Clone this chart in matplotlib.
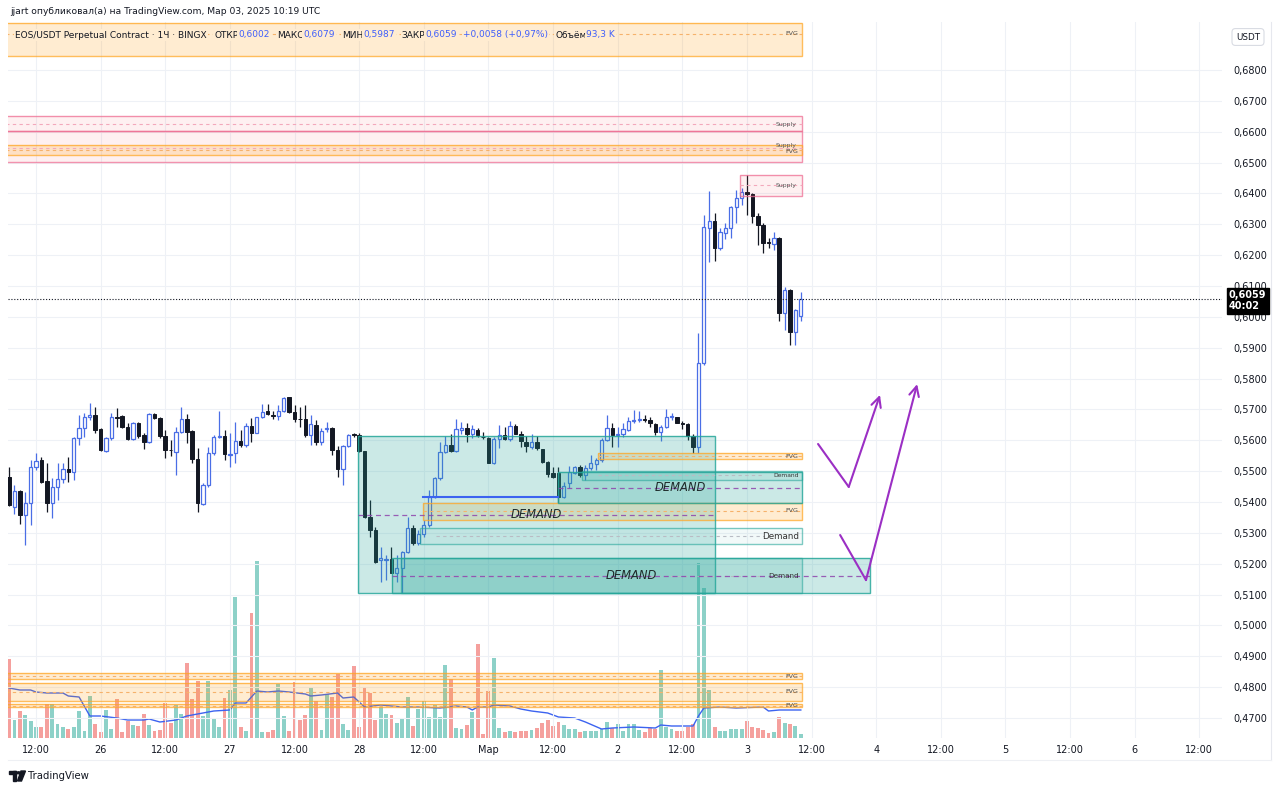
import numpy as np
import matplotlib
matplotlib.use("Agg")
import matplotlib.pyplot as plt
from matplotlib.patches import Rectangle, Circle, Polygon

plt.rcParams['font.family'] = ['DejaVu Sans']

# ---------------- data ----------------
FIRST_HOUR = 7  # first candle: 25 Feb 07:00 (hours counted from 25 Feb 00:00)

opens = [0.5480,0.5385,0.5436,0.5357,0.5396,0.5512,0.5536,0.5469,0.5396,0.5450,
 0.5476,0.5508,0.5497,0.5606,0.5639,0.5674,0.5682,0.5636,0.5566,0.5606,
 0.5677,0.5679,0.5644,0.5603,0.5655,0.5617,0.5596,0.5685,0.5671,0.5614,
 0.5569,0.5563,0.5628,0.5668,0.5631,0.5538,0.5394,0.5455,0.5558,0.5610,
 0.5614,0.5553,0.5558,0.5599,0.5585,0.5646,0.5625,0.5674,0.5696,0.5683,
 0.5679,0.5696,0.5739,0.5693,0.5670,0.5670,0.5617,0.5650,0.5596,0.5637,
 0.5639,0.5569,0.5506,0.5582,0.5619,0.5617,0.5566,0.5350,0.5309,0.5212,
 0.5212,0.5214,0.5171,0.5185,0.5239,0.5315,0.5266,0.5296,0.5325,0.5417,
 0.5477,0.5563,0.5585,0.5566,0.5633,0.5639,0.5620,0.5633,0.5612,0.5606,
 0.5525,0.5603,0.5617,0.5603,0.5646,0.5622,0.5595,0.5579,0.5595,0.5571,
 0.5531,0.5493,0.5495,0.5417,0.5460,0.5495,0.5514,0.5487,0.5509,0.5523,
 0.5536,0.5601,0.5639,0.5617,0.5622,0.5633,0.5664,0.5666,0.5668,0.5666,
 0.5653,0.5628,0.5644,0.5674,0.5674,0.5657,0.5653,0.5614,0.5579,0.5849,
 0.6287,0.6312,0.6222,0.6273,0.6287,0.6355,0.6384,0.6406,0.6398,0.6327,
 0.6298,0.6244,0.6236,0.6254,0.6011,0.6087,0.5952,0.6002]

highs = [0.5512,0.5455,0.5440,0.5434,0.5536,0.5560,0.5547,0.5525,0.5477,0.5527,
 0.5525,0.5547,0.5612,0.5682,0.5687,0.5722,0.5709,0.5639,0.5612,0.5687,
 0.5704,0.5682,0.5655,0.5660,0.5660,0.5623,0.5690,0.5690,0.5677,0.5633,
 0.5601,0.5644,0.5709,0.5685,0.5633,0.5574,0.5461,0.5579,0.5617,0.5696,
 0.5633,0.5623,0.5660,0.5633,0.5657,0.5671,0.5677,0.5718,0.5718,0.5694,
 0.5715,0.5739,0.5741,0.5714,0.5707,0.5714,0.5682,0.5666,0.5639,0.5660,
 0.5642,0.5582,0.5585,0.5620,0.5625,0.5623,0.5566,0.5406,0.5320,0.5255,
 0.5228,0.5255,0.5228,0.5242,0.5350,0.5325,0.5309,0.5342,0.5439,0.5482,
 0.5595,0.5614,0.5622,0.5668,0.5660,0.5655,0.5649,0.5639,0.5628,0.5612,
 0.5612,0.5649,0.5642,0.5664,0.5652,0.5631,0.5614,0.5620,0.5614,0.5571,
 0.5533,0.5514,0.5514,0.5466,0.5517,0.5517,0.5520,0.5520,0.5552,0.5541,
 0.5606,0.5682,0.5655,0.5644,0.5655,0.5676,0.5698,0.5696,0.5682,0.5674,
 0.5657,0.5649,0.5700,0.5687,0.5676,0.5664,0.5655,0.5622,0.5947,0.6330,
 0.6409,0.6335,0.6287,0.6305,0.6359,0.6411,0.6417,0.6460,0.6400,0.6338,
 0.6303,0.6254,0.6276,0.6258,0.6096,0.6089,0.6027,0.6079]

lows = [0.5387,0.5361,0.5329,0.5261,0.5325,0.5504,0.5461,0.5369,0.5347,0.5407,
 0.5461,0.5466,0.5471,0.5585,0.5612,0.5666,0.5623,0.5566,0.5563,0.5601,
 0.5644,0.5639,0.5601,0.5601,0.5606,0.5571,0.5590,0.5668,0.5606,0.5542,
 0.5549,0.5488,0.5623,0.5590,0.5525,0.5369,0.5390,0.5450,0.5552,0.5606,
 0.5536,0.5515,0.5525,0.5579,0.5577,0.5596,0.5623,0.5671,0.5682,0.5668,
 0.5666,0.5692,0.5687,0.5660,0.5644,0.5612,0.5585,0.5585,0.5585,0.5628,
 0.5552,0.5480,0.5455,0.5577,0.5612,0.5563,0.5347,0.5288,0.5201,0.5142,
 0.5147,0.5169,0.5142,0.5104,0.5234,0.5261,0.5261,0.5288,0.5320,0.5412,
 0.5471,0.5558,0.5563,0.5563,0.5622,0.5595,0.5606,0.5612,0.5603,0.5525,
 0.5523,0.5574,0.5601,0.5599,0.5620,0.5579,0.5563,0.5571,0.5568,0.5525,
 0.5482,0.5477,0.5396,0.5412,0.5447,0.5491,0.5480,0.5471,0.5504,0.5504,
 0.5531,0.5599,0.5579,0.5579,0.5612,0.5631,0.5655,0.5660,0.5660,0.5642,
 0.5617,0.5599,0.5639,0.5666,0.5655,0.5635,0.5601,0.5560,0.5558,0.5844,
 0.6179,0.6182,0.6217,0.6251,0.6255,0.6303,0.6362,0.6330,0.6303,0.6233,
 0.6208,0.6222,0.6217,0.5988,0.5957,0.5909,0.5909,0.5987]

closes = [0.5390,0.5436,0.5358,0.5396,0.5515,0.5534,0.5466,0.5396,0.5448,0.5476,
 0.5506,0.5497,0.5606,0.5639,0.5677,0.5682,0.5633,0.5569,0.5606,0.5677,
 0.5672,0.5644,0.5603,0.5655,0.5614,0.5596,0.5685,0.5671,0.5614,0.5569,
 0.5567,0.5628,0.5668,0.5628,0.5538,0.5398,0.5455,0.5560,0.5610,0.5613,
 0.5556,0.5557,0.5599,0.5585,0.5646,0.5625,0.5674,0.5693,0.5685,0.5679,
 0.5696,0.5736,0.5693,0.5668,0.5668,0.5617,0.5652,0.5596,0.5631,0.5639,
 0.5569,0.5506,0.5582,0.5617,0.5617,0.5566,0.5350,0.5309,0.5207,0.5217,
 0.5214,0.5171,0.5185,0.5239,0.5315,0.5266,0.5296,0.5325,0.5417,0.5477,
 0.5563,0.5585,0.5566,0.5635,0.5639,0.5620,0.5635,0.5617,0.5610,0.5527,
 0.5603,0.5617,0.5603,0.5646,0.5622,0.5599,0.5581,0.5595,0.5574,0.5531,
 0.5491,0.5482,0.5417,0.5452,0.5498,0.5512,0.5487,0.5509,0.5525,0.5536,
 0.5601,0.5639,0.5617,0.5622,0.5635,0.5664,0.5666,0.5668,0.5666,0.5655,
 0.5628,0.5644,0.5674,0.5679,0.5657,0.5653,0.5614,0.5579,0.5849,0.6292,
 0.6312,0.6222,0.6276,0.6287,0.6355,0.6384,0.6406,0.6398,0.6327,0.6298,
 0.6240,0.6238,0.6254,0.6011,0.6087,0.5952,0.6022,0.6059]

volumes_k = [1975,450,675,575,425,275,275,850,850,350,
 275,225,275,675,175,1050,350,150,700,225,
 975,150,425,325,300,600,325,175,200,875,
 375,825,600,1875,975,1425,550,1425,500,275,
 1000,1200,3525,275,175,3125,4425,150,150,200,
 1350,550,175,1400,450,575,1275,925,200,1100,
 1025,1600,350,200,1800,275,1275,1125,450,775,
 600,575,375,500,1025,300,725,925,525,825,
 525,1825,1475,250,225,325,650,2350,100,1175,
 2000,250,150,175,150,175,175,200,250,375,
 450,300,400,325,225,225,150,175,175,175,
 225,400,250,350,175,350,350,200,150,250,
 225,1700,275,225,175,175,275,350,4375,3750,
 1200,275,175,175,225,225,225,425,275,250,
 200,125,150,525,375,350,300,93.3]

vol_ma_bar = [1,3,5,6,8,11,12,14,16,18,21,23,26,27,29,32,34,37,39,42,
 43,45,47,49,51,53,56,57,59,62,63,65,67,70,72,74,77,81,84,86,
 87,88,90,91,94,96,98,101,103,106,108,111,113,117,121,122,124,128,129,130,
 133,136,141,142,144,148]
vol_ma_k = [1250,1200,1200,1150,1125,1125,1050,1025,550,550,500,450,450,475,400,450,550,625,675,700,
 875,875,1175,1150,1175,1150,1100,1050,1075,1125,1000,1025,775,825,800,775,775,750,800,775,
 700,775,775,825,800,725,675,625,525,500,400,225,250,275,250,325,300,300,550,750,
 775,750,775,675,700,700]

x_tick_hours = list(range(12, 229, 12))
x_tick_labels = ["12:00", "26", "12:00", "27", "12:00", "28", "12:00", "Мар", "12:00", "2",
                 "12:00", "3", "12:00", "4", "12:00", "5", "12:00", "6", "12:00"]
price_ticks = [0.47, 0.48, 0.49, 0.50, 0.51, 0.52, 0.53, 0.54, 0.55, 0.56, 0.57,
               0.58, 0.59, 0.60, 0.61, 0.62, 0.63, 0.64, 0.65, 0.66, 0.67, 0.68]

last_price = 0.6059
timer_text = "40:02"

# zones drawn on the chart: start hour, end hour, low, high, dashed-line level, label level
ZONE_END = 154.2
fvg_t0 = [0, 0, 116.3, 83.85, 0, 0, 0]
fvg_t1 = [ZONE_END] * 7
fvg_lo = [0.6845, 0.6525, 0.5538, 0.5342, 0.4826, 0.4756, 0.4735]
fvg_hi = [0.6952, 0.6557, 0.5560, 0.5398, 0.4845, 0.4814, 0.4745]
fvg_mid = [0.6917, 0.6541, 0.5549, 0.5371, 0.4836, 0.4785, 0.4740]
fvg_label_p = [0.6917, 0.6535, 0.5549, 0.5371, 0.4836, 0.4785, 0.4740]

supply_t0 = [0, 0, 142.7]
supply_t1 = [ZONE_END, ZONE_END, ZONE_END]
supply_lo = [0.6602, 0.6502, 0.6392]
supply_hi = [0.6651, 0.6602, 0.6460]
supply_mid = [0.6625, 0.6547, 0.6426]
supply_label_p = [0.6625, 0.6555, 0.6426]

big_demand_t0 = [71.8, 78.1, 108.9]
big_demand_t1 = [138.1, 166.8, ZONE_END]
big_demand_lo = [0.5104, 0.5104, 0.5396]
big_demand_hi = [0.5615, 0.5218, 0.5498]

small_demand_t0 = [79.8, 113.4, 83.3]
small_demand_t1 = [ZONE_END, ZONE_END, ZONE_END]
small_demand_lo = [0.5104, 0.5471, 0.5263]
small_demand_hi = [0.5218, 0.5501, 0.5315]
small_demand_fs = [5.2, 4.3, 6.3]
small_demand_alpha = [0.16, 0.10, 0.06]

level_line_t = [83.85, 108.9]
level_line_p = 0.5417

arrow1_t = [157.2, 162.9, 168.7]
arrow1_p = [0.5588, 0.5449, 0.5747]
arrow2_t = [161.3, 166.1, 175.6]
arrow2_p = [0.5293, 0.5147, 0.5782]

# ---------------- layout ----------------
W, H = 1280, 791
fig = plt.figure(figsize=(W / 100, H / 100), dpi=100)
fig.patch.set_facecolor("white")

L_PX, R_PX, T_PX, B_PX = 8, 1222, 22, 738
rect = [L_PX / W, 1 - B_PX / H, (R_PX - L_PX) / W, (B_PX - T_PX) / H]
XMIN, XMAX = 6.8, 232.2
PMIN, PMAX = 0.46352, 0.69556

UP = "#4a6ee6"
DOWN = "#131722"
TXT = "#131722"

# volume pane (underneath)
axv = fig.add_axes(rect, zorder=0)
axv.set_xlim(XMIN, XMAX)
axv.set_ylim(0, 17900)
axv.axis("off")

# price pane (on top, transparent)
ax = fig.add_axes(rect, zorder=1)
ax.patch.set_alpha(0)
ax.set_xlim(XMIN, XMAX)
ax.set_ylim(PMIN, PMAX)
for s in ax.spines.values():
    s.set_visible(False)

o = np.array(opens); h = np.array(highs); l = np.array(lows); c = np.array(closes)
n = len(o)
t = FIRST_HOUR + np.arange(n)
up = c >= o

# volume bars + MA
vcol = np.where(up, "#8dd1c8", "#f5a09d")
axv.bar(t, volumes_k, width=0.72, color=vcol, linewidth=0, zorder=1)
axv.plot(FIRST_HOUR + np.array(vol_ma_bar) - 1, vol_ma_k, color="#3c63f0", lw=1.0, zorder=2)

# grid / ticks
ax.set_xticks(x_tick_hours)
ax.set_xticklabels(x_tick_labels)
ax.set_yticks(price_ticks)
ax.set_yticklabels([f"{v:.4f}".replace(".", ",") for v in price_ticks])
ax.yaxis.tick_right()
ax.tick_params(axis="y", length=0, pad=8, labelsize=7, labelcolor=TXT)
ax.tick_params(axis="x", length=0, pad=5, labelsize=7, labelcolor=TXT)
ax.grid(True, color="#eef1f6", lw=0.8, zorder=0)
ax.set_axisbelow(True)

# candles
body_lo = np.minimum(o, c)
body_hi = np.maximum(o, c)
body_h = np.maximum(body_hi - body_lo, 0.00012)
ccol = np.where(up, UP, DOWN)
ax.vlines(t, body_hi, h, colors=ccol, lw=0.9, zorder=2)
ax.vlines(t, l, body_lo, colors=ccol, lw=0.9, zorder=2)
ax.bar(t[up], body_h[up], bottom=body_lo[up], width=0.6, facecolor="white",
       edgecolor=UP, linewidth=0.9, zorder=2.1)
ax.bar(t[~up], body_h[~up], bottom=body_lo[~up], width=0.66, facecolor=DOWN,
       edgecolor=DOWN, linewidth=0.7, zorder=2.1)

# last price dotted line
ax.axhline(last_price, color=TXT, lw=0.8, ls=(0, (1, 1.6)), zorder=2.5)


def zone(t0, t1, lo, hi, fc, fa, ec, ea, lw=1.0, z=3):
    rgb_f = matplotlib.colors.to_rgb(fc)
    rgb_e = matplotlib.colors.to_rgb(ec)
    ax.add_patch(Rectangle((t0, lo), t1 - t0, hi - lo, facecolor=(*rgb_f, fa),
                           edgecolor="none", zorder=z))
    ax.add_patch(Rectangle((t0, lo), t1 - t0, hi - lo, facecolor="none",
                           edgecolor=(*rgb_e, ea), lw=lw, zorder=z + 0.1))


# supply zones
for i in range(len(supply_lo)):
    zone(supply_t0[i], supply_t1[i], supply_lo[i], supply_hi[i], "#f23645", 0.07, "#ee6e93", 0.75)
    ax.plot([supply_t0[i], supply_t1[i]], [supply_mid[i]] * 2, color="#f3a8bb", lw=0.8,
            ls=(0, (3, 3)), zorder=3.2)
    ax.text(supply_t1[i] - 1.0, supply_label_p[i], "Supply", ha="right", va="center",
            fontsize=4.4, color="#555555", zorder=4)

# FVG zones
for i in range(len(fvg_lo)):
    zone(fvg_t0[i], fvg_t1[i], fvg_lo[i], fvg_hi[i], "#ff9800", 0.18, "#ffa726", 0.75)
    ax.plot([fvg_t0[i], fvg_t1[i]], [fvg_mid[i]] * 2, color="#f6b26b", lw=0.8,
            ls=(0, (3, 3)), zorder=3.2)
    ax.text(fvg_t1[i] - 0.6, fvg_label_p[i], "FVG", ha="right", va="center",
            fontsize=4.6, color="#4a4a4a", zorder=4)

# small demand zones
for i in range(len(small_demand_lo)):
    zone(small_demand_t0[i], small_demand_t1[i], small_demand_lo[i], small_demand_hi[i],
         "#26a69a", small_demand_alpha[i], "#26a69a", 0.6)
    mid = (small_demand_lo[i] + small_demand_hi[i]) / 2
    ax.plot([small_demand_t0[i] + 3, small_demand_t1[i] - 7], [mid] * 2, color="#b9bcc4",
            lw=0.8, ls=(0, (3, 3)), zorder=3.2)
    ax.text(small_demand_t1[i] - 0.6, mid, "Demand", ha="right", va="center",
            fontsize=small_demand_fs[i], color="#333333", zorder=4)

# big DEMAND zones
for i in range(len(big_demand_lo)):
    zone(big_demand_t0[i], big_demand_t1[i], big_demand_lo[i], big_demand_hi[i],
         "#26a69a", 0.24, "#26a69a", 0.85)
    mid = (big_demand_lo[i] + big_demand_hi[i]) / 2
    ax.plot([big_demand_t0[i], big_demand_t1[i]], [mid] * 2, color="#8e44ad", lw=0.9,
            ls=(0, (4, 3)), zorder=3.3, alpha=0.85)
    ax.text((big_demand_t0[i] + big_demand_t1[i]) / 2, mid, "DEMAND", ha="center",
            va="center", fontsize=8.3, style="italic", color="#1e2a2a", zorder=4)

# horizontal level line
ax.plot(level_line_t, [level_line_p] * 2, color="#3c63f0", lw=1.5, zorder=3.5)

# drawn arrows
PURPLE = "#9b2fc4"
for at, ap in ((arrow1_t, arrow1_p), (arrow2_t, arrow2_p)):
    ax.plot(at[:2], ap[:2], color=PURPLE, lw=1.5, zorder=5, solid_capstyle="round")
    ax.annotate("", xy=(at[2], ap[2]), xytext=(at[1], ap[1]),
                arrowprops=dict(arrowstyle="->,head_length=0.7,head_width=0.35",
                                color=PURPLE, lw=1.5, shrinkA=0, shrinkB=0), zorder=5)

# last price label
ax.annotate(f"{last_price:.4f}".replace(".", ",") + "\n" + timer_text,
            xy=(1.0, last_price), xycoords=("axes fraction", "data"),
            xytext=(5, 6.2), textcoords="offset points", ha="left", va="top",
            fontsize=7, fontweight="bold", color="white", linespacing=1.15,
            annotation_clip=False, zorder=20,
            bbox=dict(boxstyle="square,pad=0.25", fc="black", ec="black"))

# ---------------- figure texts ----------------
fig.text(10 / W, 1 - 12 / H, "jjart опубликовал(а) на TradingView.com, Мар 03, 2025 10:19 UTC",
         fontsize=6.6, color=TXT, va="center", ha="left")

fig.canvas.draw()
renderer = fig.canvas.get_renderer()
DARK = TXT
BLUE = "#3f5efb"
segments = [("EOS/USDT Perpetual Contract · 1Ч · BINGX", DARK, 8),
            ("ОТКР", DARK, 0), ("0,6002", BLUE, 7),
            ("МАКС", DARK, 0), ("0,6079", BLUE, 7),
            ("МИН", DARK, 0), ("0,5987", BLUE, 7),
            ("ЗАКР", DARK, 0), ("0,6059", BLUE, 6),
            ("+0,0058 (+0,97%)", BLUE, 7),
            ("Объём", DARK, 0), ("93,3 K", BLUE, 0)]
xp = 15
for txt, col, gap in segments:
    tt = fig.text(xp / W, 1 - 35 / H, txt, fontsize=6.5, color=col, va="center", ha="left",
                  zorder=10, bbox=dict(boxstyle="square,pad=0.15", fc="#ffecd1", ec="none"))
    bb = tt.get_window_extent(renderer=renderer)
    xp += bb.width + gap

# USDT box
fig.text(1248 / W, 1 - 37 / H, "USDT", fontsize=6.3, color=TXT, ha="center", va="center",
         bbox=dict(boxstyle="round,pad=0.45,rounding_size=0.4", fc="white", ec="#d9dce3", lw=0.8))

# frame lines
fig.add_artist(plt.Line2D([1271 / W, 1271 / W], [1 - 22 / H, 1 - 760 / H], color="#e6e8ee", lw=0.8))
fig.add_artist(plt.Line2D([8 / W, 1271 / W], [1 - 760 / H, 1 - 760 / H], color="#eef0f4", lw=0.8))


# TradingView logo
def px(x, y):
    return (x / W, 1 - y / H)


fig.add_artist(Rectangle(px(9, 774), 7 / W, 3.2 / H, color="#131722", transform=fig.transFigure))
fig.add_artist(Rectangle(px(12.5, 781), 3.5 / W, 10 / H, color="#131722", transform=fig.transFigure))
fig.add_artist(Polygon([px(21, 771), px(25.5, 771), px(21.5, 781), px(17.5, 781)],
                       closed=True, color="#131722", transform=fig.transFigure))
fig.add_artist(Circle(px(18.6, 772.8), 1.6 / W, color="#131722", transform=fig.transFigure))
fig.text(28 / W, 1 - 776 / H, "TradingView", fontsize=7.3, color="#131722", va="center", ha="left")

fig.savefig("out.png", dpi=100, facecolor="white")
